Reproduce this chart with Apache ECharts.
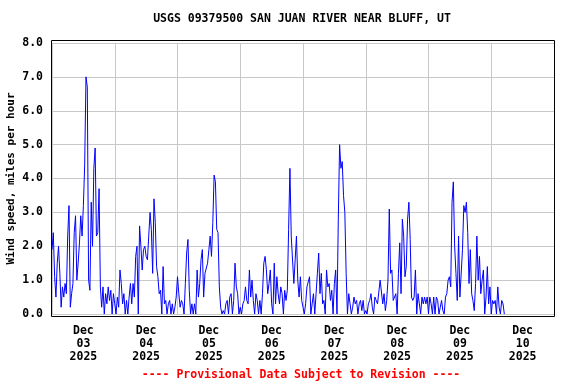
<!DOCTYPE html>
<html>
<head>
<meta charset="utf-8">
<script src="https://cdn.jsdelivr.net/npm/echarts@6/dist/echarts.min.js"></script>
<style>html,body{margin:0;padding:0;background:#fff}#c{width:576px;height:384px}</style>
</head>
<body>
<div id="c"></div>
<script>
// Wind speed (mph), half-hourly samples starting at 00:00 of each day
const dec03 = [1.9,2.4,1.1,0.5,1.5,2.0,1.2,0.2,0.8,0.5,0.9,0.6,2.3,3.2,0.2,0.6,0.9,2.4,2.9,1.0,1.5,2.1,2.9,2.3,3.2,4.4,7.0,6.7,1.0,0.7,3.3,2.0,4.3,4.9,2.3,2.4,3.7,0.8,0.2,0.8,0.0,0.6,0.3,0.8,0.4,0.7,0.0,0.6];
const dec04 = [0.3,0.0,0.5,0.2,1.3,0.9,0.3,0.6,0.0,0.4,0.0,0.5,0.9,0.3,0.9,0.5,1.7,2.0,0.0,2.6,2.0,1.3,1.9,2.0,1.7,1.6,2.3,3.0,2.5,1.2,3.4,2.7,1.4,1.1,0.6,0.7,0.0,1.4,0.3,0.4,0.0,0.3,0.4,0.0,0.3,0.0,0.2,0.5];
const dec05 = [1.1,0.6,0.2,0.4,0.3,0.0,0.9,1.8,2.2,0.7,0.0,0.3,0.0,0.3,0.0,1.3,0.5,0.9,1.6,1.9,0.5,1.2,1.2,1.5,1.9,2.3,1.7,2.7,4.1,3.9,2.5,2.4,0.8,0.2,0.0,0.1,0.0,0.3,0.4,0.0,0.5,0.6,0.0,0.4,1.5,0.8,0.6,0.0];
const dec06 = [0.2,0.0,0.3,0.4,0.8,0.4,0.3,1.3,0.5,1.0,0.4,0.0,0.6,0.4,0.0,0.4,0.0,0.6,1.5,1.7,1.3,0.6,0.9,1.3,0.3,0.0,1.5,0.3,1.1,0.6,0.3,0.8,0.6,0.0,0.7,0.4,0.7,2.5,4.3,2.3,2.3,0.9,1.6,2.3,1.0,0.5,1.1,0.4];
const dec07 = [0.2,0.0,0.3,0.8,0.8,1.1,0.0,0.3,0.6,0.0,0.6,1.2,1.8,0.6,1.2,0.3,0.4,0.0,1.3,0.8,0.9,0.4,0.7,0.0,0.9,1.3,0.0,2.8,5.0,4.3,4.5,3.5,3.0,1.2,0.0,0.6,0.3,0.0,0.2,0.5,0.3,0.4,0.0,0.3,0.4,0.1,0.4,0.0];
const dec08 = [0.1,0.0,0.3,0.4,0.6,0.2,0.0,0.5,0.4,0.3,0.3,1.0,1.0,0.3,0.6,0.1,0.4,1.0,3.1,1.2,1.3,0.4,0.4,0.6,0.0,1.2,2.1,0.6,2.8,2.3,1.1,1.4,2.8,3.3,2.2,0.5,0.4,0.5,1.3,0.0,0.6,0.3,0.0,0.5,0.3,0.5,0.3,0.5];
const dec09 = [0.0,0.5,0.3,0.0,0.5,0.0,0.5,0.4,0.0,0.2,0.4,0.1,0.0,0.5,0.6,1.0,1.1,0.8,3.3,3.9,2.0,1.2,0.4,2.3,0.5,0.5,1.9,3.2,3.0,3.3,2.4,0.9,1.9,0.6,0.4,0.1,0.9,2.3,1.0,1.7,0.6,1.0,1.3,0.0,0.5,1.4,0.3,0.8];
const dec10 = [0.0,0.4,0.3,0.4,0.0,0.8,0.2,0.0,0.4,0.3,0.0];

const days = [dec03, dec04, dec05, dec06, dec07, dec08, dec09, dec10];
const dayLabels = ['Dec\n03\n2025','Dec\n04\n2025','Dec\n05\n2025','Dec\n06\n2025','Dec\n07\n2025','Dec\n08\n2025','Dec\n09\n2025','Dec\n10\n2025'];
const yTicks = [0,1,2,3,4,5,6,7,8];
const titleText = 'USGS 09379500 SAN JUAN RIVER NEAR BLUFF, UT';
const yName = 'Wind speed, miles per hour';
const footText = '---- Provisional Data Subject to Revision ----';

const data = [];
days.forEach((arr, d) => arr.forEach((v, j) => data.push([d * 24 + j * 0.5, v])));

const FONT = 'DejaVu Sans Mono';
const FS = 11.5;
const chart = echarts.init(document.getElementById('c'), null, {renderer: 'canvas'});
chart.setOption({
  animation: false,
  backgroundColor: '#fff',
  grid: {left: 52, right: 22, top: 43, bottom: 70, containLabel: false, outerBoundsMode: 'none'},
  xAxis: [
    {type: 'value', min: 0, max: 192, interval: 24, position: 'bottom',
     axisLine: {show: false}, axisTick: {show: false}, axisLabel: {show: false},
     splitLine: {show: true, lineStyle: {color: '#c8c8c8', width: 1}}},
    {type: 'value', min: 0, max: 192, interval: 12, position: 'bottom',
     axisLine: {show: false}, axisTick: {show: false}, splitLine: {show: false},
     axisLabel: {show: true, margin: 11, color: '#000', fontFamily: FONT, fontWeight: 'bold', fontSize: FS, lineHeight: 13,
       formatter: v => (v % 24 === 12 ? dayLabels[(v - 12) / 24] : '')}}
  ],
  yAxis: {
    type: 'value', min: yTicks[0], max: yTicks[yTicks.length - 1], interval: 1,
    axisLine: {show: false}, axisTick: {show: false},
    splitLine: {show: true, lineStyle: {color: '#c8c8c8', width: 1}},
    axisLabel: {margin: 9, color: '#000', fontFamily: FONT, fontWeight: 'bold', fontSize: FS, formatter: v => v.toFixed(1)},
    name: yName, nameLocation: 'middle', nameGap: 35, nameMoveOverlap: false,
    nameTextStyle: {color: '#000', fontFamily: FONT, fontWeight: 'bold', fontSize: 11}
  },
  series: [{
    type: 'line', xAxisIndex: 0, data: data, showSymbol: false, symbol: 'none',
    lineStyle: {color: '#0000ff', width: 1}, sampling: 'none', z: 3
  }],
  graphic: [
    {type: 'rect', z: 100, shape: {x: 51.5, y: 40.5, width: 503, height: 276},
     style: {fill: 'none', stroke: '#000', lineWidth: 1}},
    {type: 'text', z: 100, x: 302, y: 19,
     style: {text: titleText, fill: '#000', font: 'bold 11.5px "DejaVu Sans Mono"', textAlign: 'center', textVerticalAlign: 'middle'}},
    {type: 'text', z: 100, x: 301, y: 375,
     style: {text: footText, fill: '#ff0000', font: 'bold 11.5px "DejaVu Sans Mono"', textAlign: 'center', textVerticalAlign: 'middle'}}
  ]
});
</script>
</body>
</html>
